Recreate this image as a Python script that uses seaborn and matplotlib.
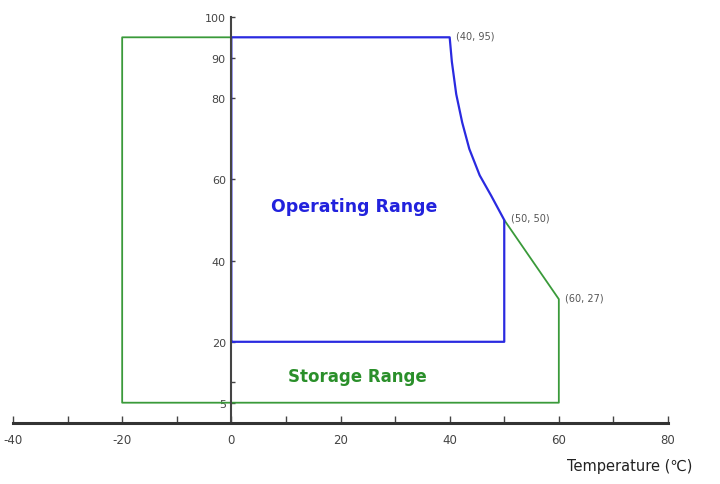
import matplotlib
matplotlib.use("Agg")
import matplotlib.pyplot as plt
import seaborn as sns
import pandas as pd

# Outline of the storage range (temperature in C, relative humidity in %)
storage_temp = [0, -20, -20, 60, 60, 50]
storage_rh = [95, 95, 5, 5, 30.5, 50]

# Outline of the operating range, including the curved edge
operating_temp = [0, 0, 40, 40.4, 41.2, 42.3, 43.6, 45.5, 47.6, 50, 50, 0]
operating_rh = [20, 95, 95, 89, 81, 74, 67.5, 61, 56, 50, 20, 20]

# Corner labels: (position on chart, text)
corner_temp = [40, 50, 60]
corner_rh = [95, 50, 30.5]
corner_text = ["(40, 95)", "(50, 50)", "(60, 27)"]

x_major = [-40, -20, 0, 20, 40, 60, 80]
x_minor = [-30, -10, 10, 30, 50, 70]
y_ticks = [5, 10, 20, 40, 60, 80, 90, 100]
y_labels = ["5", "", "20", "40", "60", "80", "90", "100"]

sns.set_theme(style="white")
plt.rcParams["font.family"] = ["DejaVu Sans"]
plt.rcParams["axes.unicode_minus"] = False

fig = plt.figure(figsize=(7.2, 4.85), dpi=100)
ax = fig.add_axes([13 / 720, 61 / 485, 655 / 720, 406 / 485])

storage = pd.DataFrame({"temp": storage_temp, "rh": storage_rh})
operating = pd.DataFrame({"temp": operating_temp, "rh": operating_rh})

sns.lineplot(data=storage, x="temp", y="rh", sort=False, estimator=None,
             color="#3a9a3a", linewidth=1.3, ax=ax, clip_on=False)
sns.lineplot(data=operating, x="temp", y="rh", sort=False, estimator=None,
             color="#2a2ae0", linewidth=1.6, ax=ax, clip_on=False)

for px, py, label in zip(corner_temp, corner_rh, corner_text):
    ax.text(px + 1.2, py + 0.5, label, fontsize=7, color="#555555",
            ha="left", va="center")

ax.text(22.5, 53.5, "Operating Range", color="#2222dd", fontsize=12.5,
        fontweight="bold", ha="center", va="center")
ax.text(23, 11.5, "Storage Range", color="#2a8f2a", fontsize=12,
        fontweight="bold", ha="center", va="center")

ax.set_xlim(-40, 80)
ax.set_ylim(0, 100)

for side in ["top", "right"]:
    ax.spines[side].set_visible(False)
ax.spines["left"].set_position(("data", 0))
ax.spines["bottom"].set_position(("data", 0))
ax.spines["left"].set_color("#444444")
ax.spines["left"].set_linewidth(1.5)
ax.spines["bottom"].set_color("#333333")
ax.spines["bottom"].set_linewidth(2.2)

ax.set_xticks(x_major)
ax.set_xticks(x_minor, minor=True)
ax.set_yticks(y_ticks)
ax.set_yticklabels(y_labels)
ax.tick_params(axis="x", which="both", direction="in", length=5, width=1,
               color="#444444", bottom=True, pad=7, labelsize=8.5,
               labelcolor="#444444")
ax.tick_params(axis="y", direction="in", length=3, width=1, color="#444444",
               left=True, pad=4, labelsize=8,
               labelcolor="#444444")

ax.set_xlabel("")
ax.set_ylabel("")
fig.text(630 / 720, 1 - 467 / 485, "Temperature (\u2103)", fontsize=10.5,
         color="#222222", ha="center", va="center")

fig.savefig("out.png", dpi=100)
